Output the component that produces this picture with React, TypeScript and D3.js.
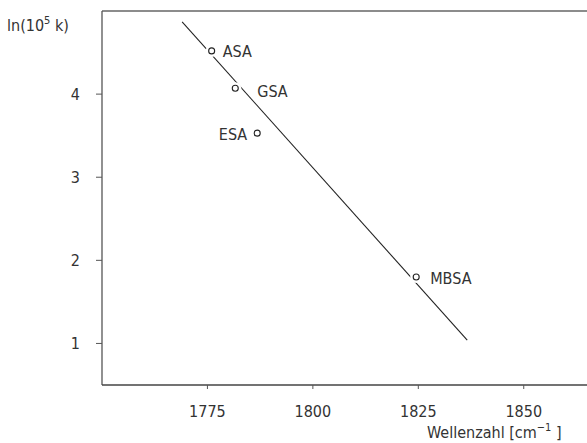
import React from 'react';
import { scaleLinear, line } from 'd3';

// values
const compounds = ['ASA', 'GSA', 'ESA', 'MBSA'];
const wavenumbers = [1776, 1781.6, 1786.8, 1824.5];
const lnK = [4.52, 4.07, 3.53, 1.8];
const fitWavenumbers = [1769, 1836.6];
const fitLnK = [4.87, 1.04];
const xTicks = [1775, 1800, 1825, 1850];
const yTicks = [1, 2, 3, 4];

const width = 587;
const height = 443;
const margin = { left: 102, top: 11, right: 0, bottom: 58 };
const font = '"DejaVu Sans Condensed", "DejaVu Sans", sans-serif';
const ink = '#333';
const fs = 16;

// label placement around each marker
const labelPos: Record<string, { dx: number; dy: number; anchor: string }> = {
  ASA: { dx: 11, dy: 6, anchor: 'start' },
  GSA: { dx: 22, dy: 9, anchor: 'start' },
  ESA: { dx: -10, dy: 7, anchor: 'end' },
  MBSA: { dx: 14, dy: 7, anchor: 'start' },
};

export default function App() {
  const x = scaleLinear().domain([1750, 1865]).range([margin.left, width - margin.right]);
  const y = scaleLinear().domain([0.5, 5.0]).range([height - margin.bottom, margin.top]);

  const fit = line<number>()
    .x((d) => x(d))
    .y((_, i) => y(fitLnK[i]));

  const bottom = height - margin.bottom;

  return (
    <svg
      width={width}
      height={height}
      style={{ position: 'absolute', left: 0, top: 0, background: '#fff' }}
      fontFamily={font}
    >
      {/* frame: top edge, left axis, bottom axis */}
      <line x1={margin.left} x2={width} y1={margin.top} y2={margin.top} stroke="#666" strokeWidth={1.3} />
      <line x1={margin.left} x2={margin.left} y1={margin.top} y2={bottom} stroke="#555" strokeWidth={1.3} />
      <line x1={margin.left} x2={width} y1={bottom} y2={bottom} stroke="#444" strokeWidth={1.3} />

      {yTicks.map((t) => (
        <g key={t}>
          <line x1={margin.left - 6} x2={margin.left} y1={y(t)} y2={y(t)} stroke="#555" strokeWidth={1} />
          <text x={margin.left - 22} y={y(t) + 6} fontSize={fs} fill={ink} textAnchor="end">
            {t}
          </text>
        </g>
      ))}

      {xTicks.map((t) => (
        <g key={t}>
          <line x1={x(t)} x2={x(t)} y1={bottom} y2={bottom + 4} stroke="#555" strokeWidth={1} />
          <text x={x(t)} y={bottom + 32} fontSize={fs} fill={ink} textAnchor="middle">
            {t}
          </text>
        </g>
      ))}

      <text x={7} y={31} fontSize={fs} fill={ink}>
        ln(10
        <tspan dy={-7} fontSize={11}>5</tspan>
        <tspan dy={7}> k)</tspan>
      </text>

      <text x={427} y={438} fontSize={fs} fill={ink}>
        Wellenzahl [cm
        <tspan dy={-7} fontSize={11}>−1</tspan>
        <tspan dy={7}> ]</tspan>
      </text>

      <path d={fit(fitWavenumbers) || ''} fill="none" stroke="#222" strokeWidth={1.1} />

      {compounds.map((c, i) => {
        const p = labelPos[c];
        return (
          <g key={c}>
            <circle cx={x(wavenumbers[i])} cy={y(lnK[i])} r={6} fill="#fff" />
            <circle cx={x(wavenumbers[i])} cy={y(lnK[i])} r={3} fill="#fff" stroke="#222" strokeWidth={1.1} />
            <text
              x={x(wavenumbers[i]) + p.dx}
              y={y(lnK[i]) + p.dy}
              fontSize={fs}
              fill={ink}
              textAnchor={p.anchor}
            >
              {c}
            </text>
          </g>
        );
      })}
    </svg>
  );
}
